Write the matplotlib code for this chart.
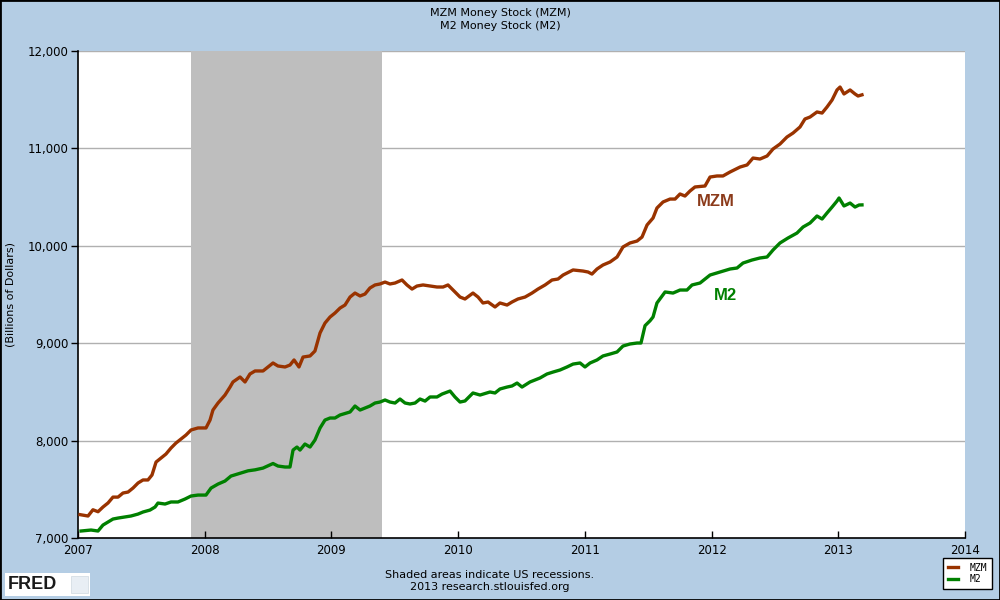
import matplotlib
matplotlib.use("Agg")
import matplotlib.pyplot as plt
import matplotlib.patches as mpatches
from matplotlib.ticker import FuncFormatter

# weekly series (decimal year, billions of dollars)
mzm_t = [2007.016, 2007.079, 2007.118, 2007.158, 2007.197, 2007.237, 2007.276, 2007.316,
         2007.355, 2007.395, 2007.434, 2007.474, 2007.513, 2007.552, 2007.584, 2007.616,
         2007.655, 2007.694, 2007.734, 2007.773, 2007.813, 2007.852, 2007.892, 2007.947,
         2008.010, 2008.042, 2008.065, 2008.105, 2008.160, 2008.200, 2008.223, 2008.279,
         2008.318, 2008.357, 2008.397, 2008.460, 2008.499, 2008.539, 2008.578, 2008.634,
         2008.673, 2008.705, 2008.744, 2008.776, 2008.831, 2008.870, 2008.910, 2008.949,
         2008.989, 2009.028, 2009.068, 2009.107, 2009.147, 2009.186, 2009.226, 2009.265,
         2009.304, 2009.344, 2009.383, 2009.423, 2009.462, 2009.502, 2009.557, 2009.596,
         2009.636, 2009.675, 2009.723, 2009.778, 2009.833, 2009.881, 2009.920, 2009.975,
         2010.015, 2010.054, 2010.117, 2010.157, 2010.196, 2010.236, 2010.291, 2010.330,
         2010.386, 2010.425, 2010.472, 2010.528, 2010.583, 2010.630, 2010.686, 2010.741,
         2010.788, 2010.828, 2010.907, 2010.985, 2011.025, 2011.056, 2011.096, 2011.143,
         2011.199, 2011.254, 2011.301, 2011.356, 2011.412, 2011.451, 2011.491, 2011.538,
         2011.569, 2011.617, 2011.672, 2011.712, 2011.751, 2011.790, 2011.830, 2011.869,
         2011.948, 2011.988, 2012.043, 2012.090, 2012.146, 2012.225, 2012.280, 2012.327,
         2012.382, 2012.438, 2012.485, 2012.540, 2012.595, 2012.643, 2012.698, 2012.737,
         2012.777, 2012.832, 2012.872, 2012.911, 2012.951, 2012.990, 2013.014, 2013.045,
         2013.093, 2013.132, 2013.156, 2013.187]
mzm = [7240, 7226, 7290, 7270, 7318, 7360, 7420, 7420,
       7462, 7472, 7513, 7565, 7596, 7596, 7647, 7780,
       7821, 7862, 7924, 7975, 8016, 8057, 8109, 8130,
       8130, 8211, 8314, 8386, 8468, 8550, 8602, 8653,
       8602, 8684, 8715, 8715, 8756, 8797, 8766, 8756,
       8776, 8828, 8756, 8858, 8869, 8920, 9105, 9207,
       9269, 9310, 9361, 9392, 9474, 9515, 9485, 9505,
       9567, 9598, 9608, 9628, 9608, 9618, 9649, 9598,
       9556, 9587, 9598, 9587, 9577, 9577, 9598, 9526,
       9474, 9454, 9515, 9474, 9413, 9423, 9372, 9413,
       9392, 9423, 9454, 9474, 9515, 9556, 9598, 9649,
       9659, 9700, 9752, 9741, 9731, 9710, 9762, 9803,
       9834, 9885, 9988, 10029, 10049, 10090, 10214, 10285,
       10388, 10450, 10480, 10480, 10532, 10511, 10563, 10604,
       10614, 10706, 10717, 10717, 10758, 10809, 10830, 10901,
       10891, 10922, 10994, 11045, 11117, 11158, 11220, 11302,
       11322, 11374, 11363, 11425, 11497, 11600, 11630, 11559,
       11600, 11559, 11538, 11550]

m2_t = [2007.024, 2007.103, 2007.158, 2007.197, 2007.237, 2007.276, 2007.316, 2007.371,
        2007.418, 2007.474, 2007.513, 2007.568, 2007.608, 2007.631, 2007.687, 2007.734,
        2007.789, 2007.844, 2007.892, 2007.947, 2008.010, 2008.050, 2008.105, 2008.160,
        2008.207, 2008.286, 2008.342, 2008.397, 2008.460, 2008.539, 2008.578, 2008.634,
        2008.673, 2008.697, 2008.728, 2008.752, 2008.791, 2008.831, 2008.870, 2008.910,
        2008.949, 2008.989, 2009.028, 2009.068, 2009.147, 2009.186, 2009.226, 2009.265,
        2009.304, 2009.344, 2009.383, 2009.423, 2009.462, 2009.502, 2009.541, 2009.581,
        2009.620, 2009.660, 2009.699, 2009.739, 2009.778, 2009.833, 2009.873, 2009.936,
        2009.975, 2010.015, 2010.054, 2010.117, 2010.173, 2010.251, 2010.291, 2010.330,
        2010.386, 2010.425, 2010.465, 2010.504, 2010.567, 2010.646, 2010.701, 2010.749,
        2010.804, 2010.859, 2010.907, 2010.962, 2011.001, 2011.041, 2011.096, 2011.143,
        2011.199, 2011.254, 2011.301, 2011.356, 2011.412, 2011.443, 2011.475, 2011.514,
        2011.538, 2011.569, 2011.633, 2011.696, 2011.751, 2011.806, 2011.846, 2011.909,
        2011.988, 2012.067, 2012.146, 2012.201, 2012.248, 2012.319, 2012.382, 2012.438,
        2012.485, 2012.540, 2012.603, 2012.674, 2012.722, 2012.777, 2012.832, 2012.872,
        2012.911, 2012.951, 2012.990, 2013.006, 2013.045, 2013.093, 2013.132, 2013.164,
        2013.187]
m2 = [7072, 7082, 7072, 7133, 7164, 7195, 7205, 7216,
      7226, 7246, 7267, 7287, 7318, 7359, 7349, 7370,
      7370, 7400, 7431, 7441, 7441, 7513, 7554, 7585,
      7636, 7667, 7690, 7700, 7718, 7765, 7739, 7729,
      7729, 7903, 7934, 7903, 7965, 7934, 8006, 8129,
      8211, 8232, 8232, 8263, 8294, 8355, 8314, 8335,
      8355, 8386, 8396, 8417, 8396, 8386, 8427, 8386,
      8376, 8386, 8427, 8406, 8448, 8448, 8478, 8509,
      8448, 8396, 8407, 8489, 8468, 8499, 8489, 8530,
      8550, 8561, 8591, 8550, 8602, 8643, 8684, 8704,
      8725, 8756, 8786, 8797, 8756, 8797, 8828, 8869,
      8889, 8910, 8971, 8992, 9002, 9002, 9180, 9230,
      9269, 9413, 9526, 9515, 9546, 9546, 9598, 9618,
      9700, 9731, 9762, 9772, 9823, 9854, 9875, 9885,
      9957, 10029, 10080, 10131, 10193, 10234, 10306, 10275,
      10337, 10398, 10460, 10491, 10409, 10439, 10398, 10419,
      10420]

recession = (2007.89, 2009.40)
years = [2007, 2008, 2009, 2010, 2011, 2012, 2013, 2014]
yticks = [7000, 8000, 9000, 10000, 11000, 12000]

bg = '#b4cde4'
c_mzm = '#993300'
c_m2 = '#008000'

fig = plt.figure(figsize=(10, 6), dpi=100, facecolor=bg)
ax = fig.add_axes([0.078, 0.1033, 0.887, 0.8117])
ax.set_facecolor('white')

ax.axvspan(recession[0], recession[1], color='#bebebe', zorder=1, lw=0)
for v in yticks[1:]:
    ax.axhline(v, color='#b0b0b0', lw=1.0, zorder=0.5)

ax.plot(mzm_t, mzm, color=c_mzm, lw=2.4, zorder=3, label='MZM')
ax.plot(m2_t, m2, color=c_m2, lw=2.4, zorder=3, label='M2')

ax.text(2012.03, 10450, 'MZM', color='#8b3a1a', fontsize=12, fontweight='bold',
        family='Liberation Sans', ha='center', va='center')
ax.text(2012.11, 9490, 'M2', color=c_m2, fontsize=12, fontweight='bold',
        family='Liberation Sans', ha='center', va='center')

ax.set_xlim(2007, 2014)
ax.set_ylim(7000, 12000)
ax.set_xticks(years)
ax.set_yticks(yticks)
ax.yaxis.set_major_formatter(FuncFormatter(lambda v, p: f'{int(v):,}'))
ax.tick_params(axis='x', direction='in', length=5, labelsize=8.5, pad=4, width=1)
ax.tick_params(axis='y', direction='out', length=5, labelsize=8.5, pad=2, width=1)
for s in ['top', 'right']:
    ax.spines[s].set_visible(False)
for s in ['left', 'bottom']:
    ax.spines[s].set_linewidth(1.2)
ax.set_ylabel('(Billions of Dollars)', fontsize=8)
ax.yaxis.set_label_coords(-0.071, 0.5)

fig.text(0.5, 0.979, 'MZM Money Stock (MZM)', ha='center', va='center', fontsize=8)
fig.text(0.5, 0.956, 'M2 Money Stock (M2)', ha='center', va='center', fontsize=8)
fig.text(0.49, 0.042, 'Shaded areas indicate US recessions.', ha='center', va='center', fontsize=8)
fig.text(0.49, 0.021, '2013 research.stlouisfed.org', ha='center', va='center', fontsize=8)

# FRED logo box
fig.patches.append(mpatches.Rectangle((0.005, 0.007), 0.085, 0.038, transform=fig.transFigure,
                                      facecolor='white', edgecolor='none'))
fig.text(0.008, 0.026, 'FRED', fontsize=13, fontweight='bold', family='Liberation Sans',
         ha='left', va='center', color='#1a1a1a')
fig.patches.append(mpatches.Rectangle((0.071, 0.012), 0.017, 0.028, transform=fig.transFigure,
                                      facecolor='#e8eef4', edgecolor='#cfd8e0', lw=0.5))

leg = fig.legend(loc='lower right', bbox_to_anchor=(0.997, 0.01),
                 prop={'family': 'DejaVu Sans Mono', 'size': 7}, handlelength=1.0,
                 handletextpad=1.2, labelspacing=0.15, borderpad=0.5, fancybox=False,
                 framealpha=1, edgecolor='black')
leg.get_frame().set_linewidth(1)

fig.patches.append(mpatches.Rectangle((0, 0), 1, 1, transform=fig.transFigure,
                                      facecolor='none', edgecolor='black', lw=2))

fig.savefig('out.png', dpi=100, facecolor=bg)
